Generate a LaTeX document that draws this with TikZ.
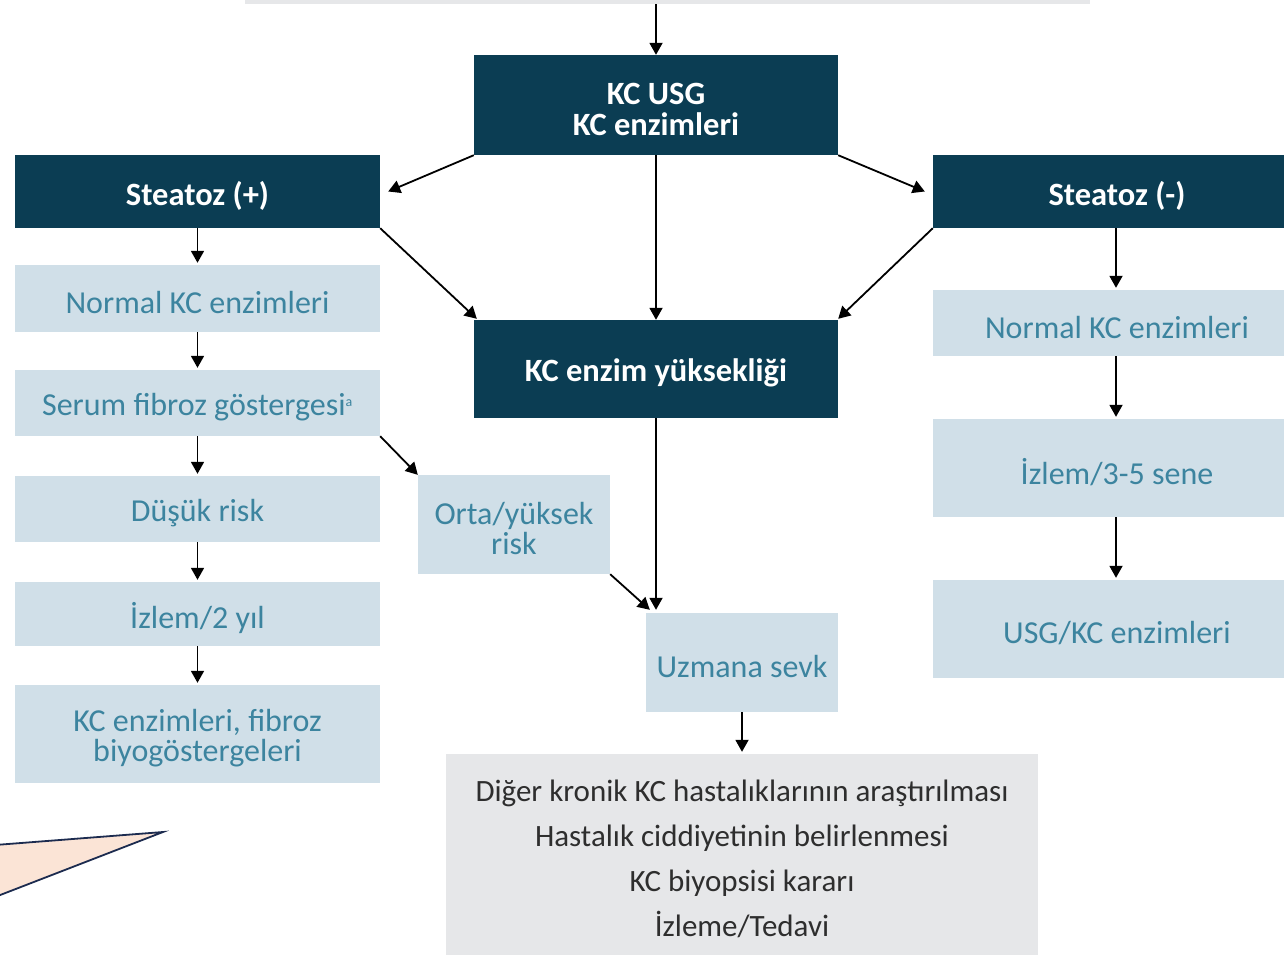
\documentclass[tikz,border=0pt]{standalone}
\usepackage{fontspec}
\setmainfont{Carlito}
\usetikzlibrary{arrows.meta}
\definecolor{dark}{HTML}{0B3D53}
\definecolor{lightb}{HTML}{D0DFE8}
\definecolor{tealtxt}{HTML}{3C849F}
\definecolor{grayb}{HTML}{E6E7E9}
\definecolor{graytxt}{HTML}{2E2E2E}
\definecolor{peach}{HTML}{FBE4D6}
\definecolor{navy}{HTML}{1C2B4F}
\tikzset{
  darkbox/.style={fill=dark, inner sep=0pt},
  darktxt/.style={text=white, font=\fontsize{32.5}{31}\selectfont\bfseries, align=center, inner sep=0pt, yshift=-4pt},
  lightbox/.style={fill=lightb, inner sep=0pt},
  lighttxt/.style={text=tealtxt, font=\fontsize{32}{30}\selectfont, align=center, inner sep=0pt, yshift=-4pt},
  graybox/.style={fill=grayb, inner sep=0pt},
  graytext/.style={text=graytxt, font=\fontsize{31}{45}\selectfont, align=center, inner sep=0pt, yshift=-3pt},
  arr/.style={draw=black, line width=1.8pt, -{Triangle[length=12pt,width=13pt]}},
}
\begin{document}
\begin{tikzpicture}[x=1pt,y=-1pt]
\useasboundingbox (0,0) rectangle (1284,954);
\node[fill=grayb, minimum width=845pt, minimum height=24pt, inner sep=0pt] (top) at (667.5,-8) {};
\node[darkbox, minimum width=364pt, minimum height=100pt, label={[darktxt]center:KC USG\\KC enzimleri}] (kcusg) at (656,105) {};
\node[darkbox, minimum width=365pt, minimum height=73pt, label={[darktxt]center:Steatoz (+)}] (stp) at (197.5,191.5) {};
\node[darkbox, minimum width=368pt, minimum height=73pt, label={[darktxt]center:Steatoz (-)}] (stm) at (1117,191.5) {};
\node[darkbox, minimum width=364pt, minimum height=98pt, label={[darktxt]center:KC enzim yüksekliği}] (kce) at (656,369) {};
\node[lightbox, minimum width=365pt, minimum height=67pt, label={[lighttxt]center:Normal KC enzimleri}] (l1) at (197.5,298.5) {};
\node[lightbox, minimum width=365pt, minimum height=66pt, label={[lighttxt]center:Serum fibroz göstergesi\textsuperscript{\fontsize{14}{14}\selectfont a}}] (l2) at (197.5,403) {};
\node[lightbox, minimum width=365pt, minimum height=66pt, label={[lighttxt]center:Düşük risk}] (l3) at (197.5,509) {};
\node[lightbox, minimum width=365pt, minimum height=64pt, label={[lighttxt]center:İzlem/2 yıl}] (l4) at (197.5,614) {};
\node[lightbox, minimum width=365pt, minimum height=98pt, label={[lighttxt]center:KC enzimleri, fibroz\\biyogöstergeleri}] (l5) at (197.5,734) {};
\node[lightbox, minimum width=192pt, minimum height=99pt, label={[lighttxt]center:Orta/yüksek\\risk}] (orta) at (514,524.5) {};
\node[lightbox, minimum width=192pt, minimum height=99pt, label={[lighttxt]center:Uzmana sevk}] (uzm) at (742,662.5) {};
\node[lightbox, minimum width=368pt, minimum height=66pt, label={[lighttxt]center:Normal KC enzimleri}] (r1) at (1117,323) {};
\node[lightbox, minimum width=368pt, minimum height=98pt, label={[lighttxt]center:İzlem/3-5 sene}] (r2) at (1117,468) {};
\node[lightbox, minimum width=368pt, minimum height=98pt, label={[lighttxt]center:USG/KC enzimleri}] (r3) at (1117,629) {};
\node[graybox, minimum width=592pt, minimum height=204pt, label={[graytext]center:Diğer kronik KC hastalıklarının araştırılması\\Hastalık ciddiyetinin belirlenmesi\\KC biyopsisi kararı\\İzleme/Tedavi}] (bot) at (742,856) {};
\draw[navy, fill=peach, line width=1.8pt, line join=miter] (-5,845) -- (163,832) -- (-5,897);
% connectors
\draw[arr] (kcusg.north |- top.south) -- (kcusg.north);
\draw[arr] (kcusg.south west) -- ([xshift=8pt]stp.east);
\draw[arr] (kcusg.south east) -- ([xshift=-8pt]stm.west);
\draw[arr] (kcusg.south) -- (kce.north);
\draw[arr] (stp.south east) -- ([xshift=3pt,yshift=1pt]kce.north west);
\draw[arr] (stm.south west) -- ([yshift=1pt]kce.north east);
\draw[arr] (l1.north |- stp.south) -- ([yshift=2pt]l1.north);
\draw[arr] (l1.south) -- ([yshift=2pt]l2.north);
\draw[arr] (l2.south) -- ([yshift=2pt]l3.north);
\draw[arr] (l3.south) -- ([yshift=2pt]l4.north);
\draw[arr] (l4.south) -- ([yshift=2pt]l5.north);
\draw[arr] (l2.south east) -- (orta.north west);
\draw[arr] (orta.south east) -- ([xshift=4pt,yshift=3pt]uzm.north west);
\draw[arr] (kce.south) -- ([yshift=3pt]kce.south |- uzm.north);
\draw[arr] ([xshift=-1pt]r1.north |- stm.south) -- ([xshift=-1pt,yshift=2pt]r1.north);
\draw[arr] ([xshift=-1pt]r1.south) -- ([xshift=-1pt,yshift=2pt]r2.north);
\draw[arr] ([xshift=-1pt]r2.south) -- ([xshift=-1pt,yshift=2pt]r3.north);
\draw[arr] (uzm.south) -- ([yshift=2pt]bot.north);
\end{tikzpicture}
\end{document}
